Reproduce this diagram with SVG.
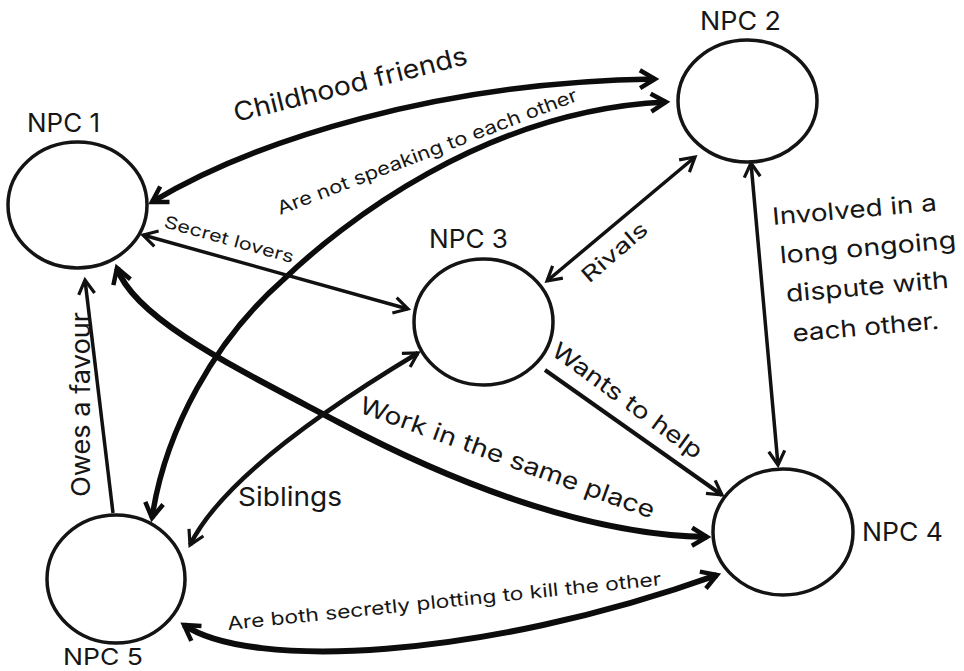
<svg xmlns="http://www.w3.org/2000/svg" width="964" height="671" viewBox="0 0 964 671">
<style>
.node{fill:none;stroke:#141414;stroke-width:3.5}
.lbl{font-family:Inter,"Noto Sans","DejaVu Sans",sans-serif;fill:#161616;font-weight:400}
.thin{fill:none;stroke:#111;stroke-width:3.5;stroke-linecap:butt;marker-end:url(#ah)}
.thinb{fill:none;stroke:#111;stroke-width:3.5;marker-start:url(#ah);marker-end:url(#ah)}
.thick{fill:none;stroke:#0c0c0c;stroke-width:5.5;marker-start:url(#ahT);marker-end:url(#ahT)}
</style>
<defs>
<marker id="ah" markerUnits="userSpaceOnUse" markerWidth="30" markerHeight="30" viewBox="-20 -15 30 30" refX="0" refY="0" orient="auto-start-reverse">
<path d="M-14,-8 L0,0 L-14,8" fill="none" stroke="#111" stroke-width="3.2" stroke-linejoin="miter"/>
</marker>
<marker id="ahT" markerUnits="userSpaceOnUse" markerWidth="30" markerHeight="30" viewBox="-20 -15 30 30" refX="0" refY="0" orient="auto-start-reverse">
<path d="M-15,-9 L0,0 L-15,9" fill="none" stroke="#0c0c0c" stroke-width="4.5" stroke-linejoin="miter"/>
</marker>
</defs>
<rect width="964" height="671" fill="#fff"/>

<g id="connectors">
<path id="e-childhood" class="thick" d="M152,202 C255,140 440,82 655,79"/>
<path id="e-speaking" class="thick" d="M152,518 C165,430 215,340 283,280 C340,225 485,110 666,102"/>
<path id="e-secret" class="thinb" d="M143,235 L408,309"/>
<path id="e-rivals" class="thinb" d="M547,281 L695,157"/>
<path id="e-involved" class="thinb" d="M751,163 L778,465"/>
<path id="e-wants" class="thin" style="stroke-width:4" d="M545,370 L722,495"/>
<path id="e-work" class="thick" style="stroke-width:6" d="M117,268 C135,320 240,370 340,423 C440,476 580,535 707,537"/>
<path id="e-siblings" class="thinb" style="stroke-width:4.5" d="M190,545 C222,480 328,407 418,353"/>
<path id="e-owes" class="thin" d="M113,513 L85,280"/>
<path id="e-plotting" class="thick" style="stroke-width:6" d="M184,625 C250,670 480,660 717,575"/>

<text class="lbl" font-size="26" textLength="240" lengthAdjust="spacingAndGlyphs" transform="translate(236,122) rotate(-14)">Childhood friends</text>
<text class="lbl" font-size="18.5" textLength="320" lengthAdjust="spacingAndGlyphs" transform="translate(280,215) rotate(-21)">Are not speaking to each other</text>
<text class="lbl" font-size="17" textLength="134" lengthAdjust="spacingAndGlyphs" transform="translate(163,227) rotate(15.6)">Secret lovers</text>
<text class="lbl" font-size="21" textLength="80" lengthAdjust="spacingAndGlyphs" transform="translate(589,284) rotate(-41)">Rivals</text>
<g transform="rotate(-5 773 225)">
<text class="lbl" font-size="24" x="773" y="225" textLength="165" lengthAdjust="spacingAndGlyphs">Involved in a</text>
<text class="lbl" font-size="24" x="777" y="264" textLength="177" lengthAdjust="spacingAndGlyphs">long ongoing</text>
<text class="lbl" font-size="24" x="780" y="303" textLength="163" lengthAdjust="spacingAndGlyphs">dispute with</text>
<text class="lbl" font-size="24" x="783" y="343" textLength="147" lengthAdjust="spacingAndGlyphs">each other.</text>
</g>
<text class="lbl" font-size="23" textLength="180" lengthAdjust="spacingAndGlyphs" transform="translate(550,354) rotate(36)">Wants to help</text>
<text class="lbl" font-size="24" textLength="312" lengthAdjust="spacingAndGlyphs" transform="translate(358,412) rotate(20)">Work in the same place</text>
<text class="lbl" font-size="26" x="238" y="506" textLength="104" lengthAdjust="spacingAndGlyphs">Siblings</text>
<text class="lbl" font-size="26" textLength="185" lengthAdjust="spacingAndGlyphs" transform="translate(90,497) rotate(-90)">Owes a favour</text>
<text class="lbl" font-size="18.5" textLength="436" lengthAdjust="spacingAndGlyphs" transform="translate(228,630) rotate(-5.9)">Are both secretly plotting to kill the other</text>
</g>

<g id="npc1">
<ellipse class="node" cx="77.5" cy="205" rx="69.5" ry="63"/>
<text class="lbl" font-size="25" x="27" y="132" textLength="73" lengthAdjust="spacingAndGlyphs">NPC 1</text>
</g>
<g id="npc2">
<ellipse class="node" cx="747.5" cy="101" rx="69.5" ry="61"/>
<text class="lbl" font-size="25" x="700" y="30" textLength="81" lengthAdjust="spacingAndGlyphs">NPC 2</text>
</g>
<g id="npc3">
<ellipse class="node" cx="483.5" cy="322" rx="69.5" ry="63"/>
<text class="lbl" font-size="25" x="429" y="248" textLength="79" lengthAdjust="spacingAndGlyphs">NPC 3</text>
</g>
<g id="npc4">
<ellipse class="node" cx="783" cy="532" rx="70" ry="63"/>
<text class="lbl" font-size="25" x="862" y="541" textLength="81" lengthAdjust="spacingAndGlyphs">NPC 4</text>
</g>
<g id="npc5">
<ellipse class="node" cx="116" cy="579" rx="69" ry="64"/>
<text class="lbl" font-size="23" x="63" y="665" textLength="80" lengthAdjust="spacingAndGlyphs">NPC 5</text>
</g>
</svg>
